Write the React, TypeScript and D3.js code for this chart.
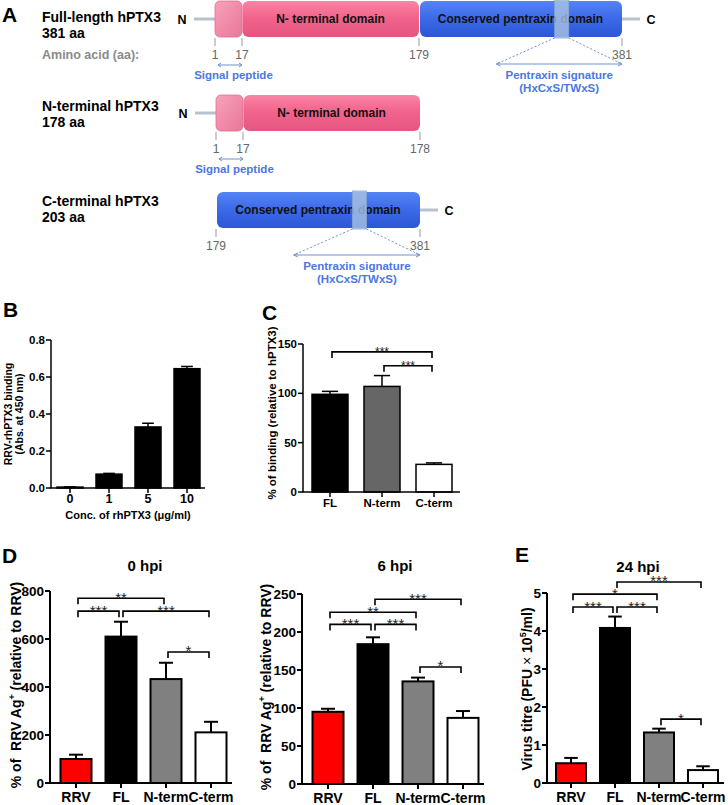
import React from 'react';
import * as d3 from 'd3';

const FONT = '"Liberation Sans", Arial, Helvetica, sans-serif';

// ---------- Panel A: construct schematics ----------
const constructNames = ['Full-length hPTX3', 'N-terminal hPTX3', 'C-terminal hPTX3'];
const constructSizes = ['381 aa', '178 aa', '203 aa'];
const fullLengthBreaks = [1, 17, 179, 381];
const nTerminalBreaks = [1, 17, 178];
const cTerminalBreaks = [179, 381];
const signalPeptideAA = [1, 17];
const signatureAA = [314, 328];
const signatureSpanAA = [256, 381];
const domainLabels = ['N- terminal domain', 'Conserved pentraxin domain'];
const annotationLabels = ['Signal peptide', 'Pentraxin signature', '(HxCxS/TWxS)', 'Amino acid (aa):'];

// ---------- Panel B ----------
const concLabels = ['0', '1', '5', '10'];
const bindingValues = [0.005, 0.075, 0.33, 0.645];
const bindingErrors = [0.001, 0.004, 0.02, 0.012];
const bindingTicks = [0, 0.2, 0.4, 0.6, 0.8];

// ---------- Panel C ----------
const proteinLabels = ['FL', 'N-term', 'C-term'];
const relBindingValues = [99, 107, 28];
const relBindingErrors = [3, 11, 1.5];
const relBindingTicks = [0, 50, 100, 150];
const relBindingSig = [
  { a: 0, b: 2, level: 142, label: '***' },
  { a: 1, b: 2, level: 128, label: '***' },
];

// ---------- Panel D / E ----------
const infectionLabels = ['RRV', 'FL', 'N-term', 'C-term'];
const ag0Values = [100, 610, 433, 211];
const ag0Errors = [18, 62, 68, 44];
const ag0Ticks = [0, 200, 400, 600, 800];
const ag0Sig = [
  { a: 0, b: 2, level: 770, label: '**' },
  { a: 0, b: 1, level: 716, label: '***' },
  { a: 1, b: 3, level: 716, label: '***' },
  { a: 2, b: 3, level: 546, label: '*' },
];
const ag6Values = [95, 184, 135, 87];
const ag6Errors = [4, 9, 5, 9];
const ag6Ticks = [0, 50, 100, 150, 200, 250];
const ag6Sig = [
  { a: 1, b: 3, level: 243, label: '***' },
  { a: 0, b: 2, level: 226, label: '**' },
  { a: 0, b: 1, level: 210, label: '***' },
  { a: 1, b: 2, level: 210, label: '***' },
  { a: 2, b: 3, level: 154, label: '*' },
];
const titreValues = [0.52, 4.08, 1.33, 0.34];
const titreErrors = [0.14, 0.3, 0.1, 0.1];
const titreTicks = [0, 1, 2, 3, 4, 5];
const titreSig = [
  { a: 1, b: 3, level: 5.29, label: '***' },
  { a: 0, b: 2, level: 4.97, label: '*' },
  { a: 0, b: 1, level: 4.63, label: '***' },
  { a: 1, b: 2, level: 4.63, label: '***' },
  { a: 2, b: 3, level: 1.68, label: '*' },
];
const infectionFills = ['#ff0000', '#000000', '#808080', '#ffffff'];
const bindingFills = ['#000000', '#000000', '#000000', '#000000'];
const proteinFills = ['#000000', '#666666', '#ffffff'];

type Sig = { a: number; b: number; level: number; label: string };

// ---------------- Generic bar panel ----------------
function BarPanel(p: {
  cats: string[];
  values: number[];
  errors: number[];
  fills: string[];
  ticks: number[];
  fmt: (v: number) => string;
  axisX: number;
  y0: number;
  y1: number;
  c0: number;
  step: number;
  barW: number;
  xEnd: number;
  tickSize: number;
  catSize: number;
  catDy: number;
  sw: number;
  sig?: Sig[];
  starSize?: number;
}) {
  const yMax = p.ticks[p.ticks.length - 1];
  const y = d3.scaleLinear().domain([0, yMax]).range([p.y0, p.y1]);
  const x = d3
    .scalePoint<string>()
    .domain(p.cats)
    .range([p.c0, p.c0 + p.step * (p.cats.length - 1)]);
  const cap = p.barW * 0.45;
  return (
    <g>
      {p.cats.map((c, i) => {
        const cx = x(c) as number;
        const top = y(p.values[i]);
        const et = y(p.values[i] + p.errors[i]);
        return (
          <g key={c}>
            <line x1={cx} x2={cx} y1={top} y2={et} stroke="#000" strokeWidth={p.sw} />
            <line x1={cx - cap / 2} x2={cx + cap / 2} y1={et} y2={et} stroke="#000" strokeWidth={p.sw} />
            <rect
              x={cx - p.barW / 2}
              y={top}
              width={p.barW}
              height={p.y0 - top}
              fill={p.fills[i]}
              stroke="#000"
              strokeWidth={p.sw}
            />
          </g>
        );
      })}
      <line x1={p.axisX} x2={p.axisX} y1={p.y0} y2={y(yMax)} stroke="#000" strokeWidth={p.sw} />
      {p.ticks.map((t) => (
        <g key={t}>
          <line x1={p.axisX - 5} x2={p.axisX} y1={y(t)} y2={y(t)} stroke="#000" strokeWidth={p.sw} />
          <text
            x={p.axisX - 6}
            y={y(t)}
            dy="0.36em"
            textAnchor="end"
            fontSize={p.tickSize}
            fontWeight="bold"
          >
            {p.fmt(t)}
          </text>
        </g>
      ))}
      <line x1={p.axisX - p.sw / 2} x2={p.xEnd} y1={p.y0} y2={p.y0} stroke="#000" strokeWidth={p.sw} />
      {p.cats.map((c) => (
        <g key={'x' + c}>
          <line x1={x(c)} x2={x(c)} y1={p.y0} y2={p.y0 + 5} stroke="#000" strokeWidth={p.sw} />
          <text x={x(c)} y={p.y0 + p.catDy} textAnchor="middle" fontSize={p.catSize} fontWeight="bold">
            {c}
          </text>
        </g>
      ))}
      {(p.sig || []).map((s, i) => {
        const xa = (x(p.cats[s.a]) as number) + 2;
        const xb = (x(p.cats[s.b]) as number) - 2;
        const yy = y(s.level);
        return (
          <g key={'s' + i}>
            <path
              d={`M${xa},${yy + 6}V${yy}H${xb}V${yy + 6}`}
              fill="none"
              stroke="#000"
              strokeWidth={1.6}
            />
            <text x={(xa + xb) / 2} y={yy + 4.5} textAnchor="middle" fontSize={p.starSize || 15} fill="#222">
              {s.label}
            </text>
          </g>
        );
      })}
    </g>
  );
}

function RotTitle(props: { x: number; y: number; size: number; children: React.ReactNode }) {
  return (
    <text
      transform={`translate(${props.x},${props.y}) rotate(-90)`}
      textAnchor="middle"
      fontSize={props.size}
      fontWeight="bold"
    >
      {props.children}
    </text>
  );
}

// ---------------- Panel A ----------------
function ConstructRow(r: {
  name: string;
  size: string;
  breaks: number[];
  range: number[];
  top: number;
  labelY: number;
  first: boolean;
}) {
  const x = d3.scaleLinear().domain(r.breaks).range(r.range);
  const h = 36;
  const hasSignal = r.breaks[0] === signalPeptideAA[0];
  const hasC = r.breaks[r.breaks.length - 1] === 381;
  const segs: React.ReactNode[] = [];
  for (let i = 0; i < r.breaks.length - 1; i++) {
    const a = r.breaks[i];
    const b = r.breaks[i + 1];
    const x0 = x(a);
    const x1 = x(b);
    if (a === 1) {
      segs.push(
        <rect key={i} x={x0} y={r.top} width={x1 - x0} height={h} rx={5} fill="url(#sigPink)" stroke="#e86b90" strokeWidth={0.8} />
      );
    } else if (a === 17) {
      segs.push(
        <g key={i}>
          <rect x={x0 + 0.5} y={r.top} width={x1 - x0 - 0.5} height={h} rx={6} fill="url(#pinkGrad)" />
          <text x={(x0 + x1) / 2} y={r.top + h / 2} dy="0.36em" textAnchor="middle" fontSize={12} fontWeight="bold" fill="#111">
            {domainLabels[0]}
          </text>
        </g>
      );
    } else {
      segs.push(
        <g key={i}>
          <rect x={x0 + 1} y={r.top} width={x1 - x0 - 1} height={h} rx={6} fill="url(#blueGrad)" />
          <text x={(x0 + x1) / 2} y={r.top + h / 2} dy="0.36em" textAnchor="middle" fontSize={12} fontWeight="bold" fill="#111">
            {domainLabels[1]}
          </text>
          <rect
            x={x(signatureAA[0])}
            y={r.top - 1}
            width={x(signatureAA[1]) - x(signatureAA[0])}
            height={h + 2}
            fill="#a9c3e2"
            fillOpacity={0.8}
            stroke="#86a6cf"
            strokeWidth={0.8}
          />
        </g>
      );
    }
  }
  const numY = r.top + h + 22;
  const arrowColor = '#6f92cf';
  const labelBlue = '#4a78e0';
  const xStart = x(r.breaks[0]);
  const xEnd = x(r.breaks[r.breaks.length - 1]);
  return (
    <g>
      <text x={42} y={r.labelY} fontSize={14} fontWeight="bold">
        {r.name}
      </text>
      <text x={42} y={r.labelY + 16} fontSize={14} fontWeight="bold">
        {r.size}
      </text>
      {hasSignal && (
        <g>
          <line x1={xStart - 21} x2={xStart} y1={r.top + h / 2} y2={r.top + h / 2} stroke="#b7c2cc" strokeWidth={3} />
          <text x={xStart - 33} y={r.top + h / 2} dy="0.36em" textAnchor="middle" fontSize={12.5} fontWeight="bold">
            N
          </text>
        </g>
      )}
      {hasC && (
        <g>
          <line x1={xEnd} x2={xEnd + 18} y1={r.top + h / 2} y2={r.top + h / 2} stroke="#b7c2cc" strokeWidth={3} />
          <text x={xEnd + 29} y={r.top + h / 2} dy="0.36em" textAnchor="middle" fontSize={12.5} fontWeight="bold">
            C
          </text>
        </g>
      )}
      {segs}
      {r.breaks.map((b) => (
        <g key={'t' + b}>
          <line x1={x(b)} x2={x(b)} y1={r.top + h + 1} y2={r.top + h + 9} stroke="#999" strokeWidth={1} />
          <text x={x(b)} y={numY} textAnchor="middle" fontSize={12} fill="#666">
            {b}
          </text>
        </g>
      ))}
      {r.first && (
        <text x={42} y={numY} fontSize={12.5} fontWeight="bold" fill="#8a8a8a">
          {annotationLabels[3]}
        </text>
      )}
      {hasSignal && (
        <g>
          <line x1={x(signalPeptideAA[0]) + 3} x2={x(signalPeptideAA[1])} y1={r.top + h + 28} y2={r.top + h + 28} stroke={arrowColor} strokeWidth={1} />
          <path
            d={`M${x(signalPeptideAA[0]) + 6},${r.top + h + 26}L${x(signalPeptideAA[0]) + 3},${r.top + h + 28}L${x(signalPeptideAA[0]) + 6},${r.top + h + 30}M${x(signalPeptideAA[1]) - 3},${r.top + h + 26}L${x(signalPeptideAA[1])},${r.top + h + 28}L${x(signalPeptideAA[1]) - 3},${r.top + h + 30}`}
            fill="none"
            stroke={arrowColor}
            strokeWidth={1}
          />
          <text x={(x(signalPeptideAA[0]) + x(signalPeptideAA[1])) / 2 + 5} y={r.top + h + 42} textAnchor="middle" fontSize={11.5} fontWeight="bold" fill={labelBlue}>
            {annotationLabels[0]}
          </text>
        </g>
      )}
      {hasC && (
        <g>
          <line x1={x(signatureAA[0])} y1={r.top + h + 1} x2={x(signatureSpanAA[0])} y2={r.top + h + 27} stroke={arrowColor} strokeWidth={1} strokeDasharray="2,2" />
          <line x1={x(signatureAA[1])} y1={r.top + h + 1} x2={x(signatureSpanAA[1])} y2={r.top + h + 27} stroke={arrowColor} strokeWidth={1} strokeDasharray="2,2" />
          <line x1={x(signatureSpanAA[0])} x2={x(signatureSpanAA[1])} y1={r.top + h + 27} y2={r.top + h + 27} stroke={arrowColor} strokeWidth={1} />
          <path
            d={`M${x(signatureSpanAA[0]) + 4},${r.top + h + 25}L${x(signatureSpanAA[0])},${r.top + h + 27}L${x(signatureSpanAA[0]) + 4},${r.top + h + 29}M${x(signatureSpanAA[1]) - 4},${r.top + h + 25}L${x(signatureSpanAA[1])},${r.top + h + 27}L${x(signatureSpanAA[1]) - 4},${r.top + h + 29}`}
            fill="none"
            stroke={arrowColor}
            strokeWidth={1}
          />
          <text x={(x(signatureSpanAA[0]) + x(signatureSpanAA[1])) / 2} y={r.top + h + 42} textAnchor="middle" fontSize={11.5} fontWeight="bold" fill={labelBlue}>
            {annotationLabels[1]}
          </text>
          <text x={(x(signatureSpanAA[0]) + x(signatureSpanAA[1])) / 2} y={r.top + h + 55} textAnchor="middle" fontSize={11.5} fontWeight="bold" fill={labelBlue}>
            {annotationLabels[2]}
          </text>
        </g>
      )}
    </g>
  );
}

function PanelA() {
  return (
    <g>
      <text x={2} y={22} fontSize={21} fontWeight="bold">A</text>
      <ConstructRow name={constructNames[0]} size={constructSizes[0]} breaks={fullLengthBreaks} range={[215, 242, 419, 622]} top={1} labelY={22} first />
      <ConstructRow name={constructNames[1]} size={constructSizes[1]} breaks={nTerminalBreaks} range={[216, 243, 420]} top={95} labelY={111} first={false} />
      <ConstructRow name={constructNames[2]} size={constructSizes[2]} breaks={cTerminalBreaks} range={[216, 420]} top={192} labelY={206} first={false} />
    </g>
  );
}

export default function App() {
  return (
    <svg
      width={728}
      height={805}
      viewBox="0 0 728 805"
      style={{ position: 'absolute', left: 0, top: 0, background: '#fff' }}
      fontFamily={FONT}
    >
      <defs>
        <linearGradient id="pinkGrad" x1="0" y1="0" x2="0" y2="1">
          <stop offset="0" stopColor="#f985a6" />
          <stop offset="0.45" stopColor="#f2648c" />
          <stop offset="1" stopColor="#e55580" />
        </linearGradient>
        <linearGradient id="sigPink" x1="0" y1="0" x2="1" y2="1">
          <stop offset="0" stopColor="#f7a2bb" />
          <stop offset="1" stopColor="#e9769a" />
        </linearGradient>
        <linearGradient id="blueGrad" x1="0" y1="0" x2="0" y2="1">
          <stop offset="0" stopColor="#5584f5" />
          <stop offset="0.5" stopColor="#3b69e8" />
          <stop offset="1" stopColor="#2c57d6" />
        </linearGradient>
      </defs>

      <PanelA />

      {/* Panel B */}
      <text x={3} y={317} fontSize={21} fontWeight="bold">B</text>
      <BarPanel
        cats={concLabels}
        values={bindingValues}
        errors={bindingErrors}
        fills={bindingFills}
        ticks={bindingTicks}
        fmt={(v) => v.toFixed(1)}
        axisX={51}
        y0={488}
        y1={340}
        c0={70}
        step={39}
        barW={26}
        xEnd={205}
        tickSize={11.5}
        catSize={12.5}
        catDy={15}
        sw={1.5}
      />
      <text x={128} y={519} textAnchor="middle" fontSize={11} fontWeight="bold">
        Conc. of rhPTX3 (μg/ml)
      </text>
      <RotTitle x={12} y={414} size={10.5}>RRV-rhPTX3 binding</RotTitle>
      <RotTitle x={23} y={414} size={10.5}>(Abs. at 450 nm)</RotTitle>

      {/* Panel C */}
      <text x={262} y={320} fontSize={21} fontWeight="bold">C</text>
      <BarPanel
        cats={proteinLabels}
        values={relBindingValues}
        errors={relBindingErrors}
        fills={proteinFills}
        ticks={relBindingTicks}
        fmt={(v) => String(v)}
        axisX={303}
        y0={492}
        y1={344}
        c0={330}
        step={52}
        barW={36}
        xEnd={460}
        tickSize={11.5}
        catSize={11.5}
        catDy={15}
        sw={1.5}
        sig={relBindingSig}
        starSize={12}
      />
      <RotTitle x={276} y={413} size={11.5}>% of binding (relative to hPTX3)</RotTitle>

      {/* Panel D */}
      <text x={2} y={563} fontSize={21} fontWeight="bold">D</text>
      <text x={145} y={571} textAnchor="middle" fontSize={15} fontWeight="bold">0 hpi</text>
      <BarPanel
        cats={infectionLabels}
        values={ag0Values}
        errors={ag0Errors}
        fills={infectionFills}
        ticks={ag0Ticks}
        fmt={(v) => String(v)}
        axisX={50}
        y0={783}
        y1={591}
        c0={76}
        step={45}
        barW={31}
        xEnd={232}
        tickSize={13.5}
        catSize={14}
        catDy={19}
        sw={2}
        sig={ag0Sig}
      />
      <RotTitle x={21} y={685} size={14}>
        {'% of\u00A0\u00A0RRV Ag'}
        <tspan dy={-6} fontSize={9}>+</tspan>
        <tspan dy={6}> (relative to RRV)</tspan>
      </RotTitle>

      <text x={395} y={571} textAnchor="middle" fontSize={15} fontWeight="bold">6 hpi</text>
      <BarPanel
        cats={infectionLabels}
        values={ag6Values}
        errors={ag6Errors}
        fills={infectionFills}
        ticks={ag6Ticks}
        fmt={(v) => String(v)}
        axisX={302}
        y0={784}
        y1={594}
        c0={328}
        step={45}
        barW={31}
        xEnd={484}
        tickSize={13.5}
        catSize={14}
        catDy={19}
        sw={2}
        sig={ag6Sig}
      />
      <RotTitle x={271} y={687} size={14}>
        {'% of\u00A0\u00A0RRV Ag'}
        <tspan dy={-6} fontSize={9}>+</tspan>
        <tspan dy={6}> (relative to RRV)</tspan>
      </RotTitle>

      {/* Panel E */}
      <text x={515} y={562} fontSize={21} fontWeight="bold">E</text>
      <text x={638} y={572} textAnchor="middle" fontSize={15} fontWeight="bold">24 hpi</text>
      <BarPanel
        cats={infectionLabels}
        values={titreValues}
        errors={titreErrors}
        fills={infectionFills}
        ticks={titreTicks}
        fmt={(v) => String(v)}
        axisX={547}
        y0={783}
        y1={593}
        c0={571}
        step={44}
        barW={30}
        xEnd={724}
        tickSize={13.5}
        catSize={14}
        catDy={19}
        sw={2}
        sig={titreSig}
      />
      <RotTitle x={532} y={689} size={14}>
        {'Virus titre (PFU '}
        <tspan fontWeight="normal">×</tspan>
        {' 10'}
        <tspan dy={-6} fontSize={9}>5</tspan>
        <tspan dy={6}>/ml)</tspan>
      </RotTitle>
    </svg>
  );
}
